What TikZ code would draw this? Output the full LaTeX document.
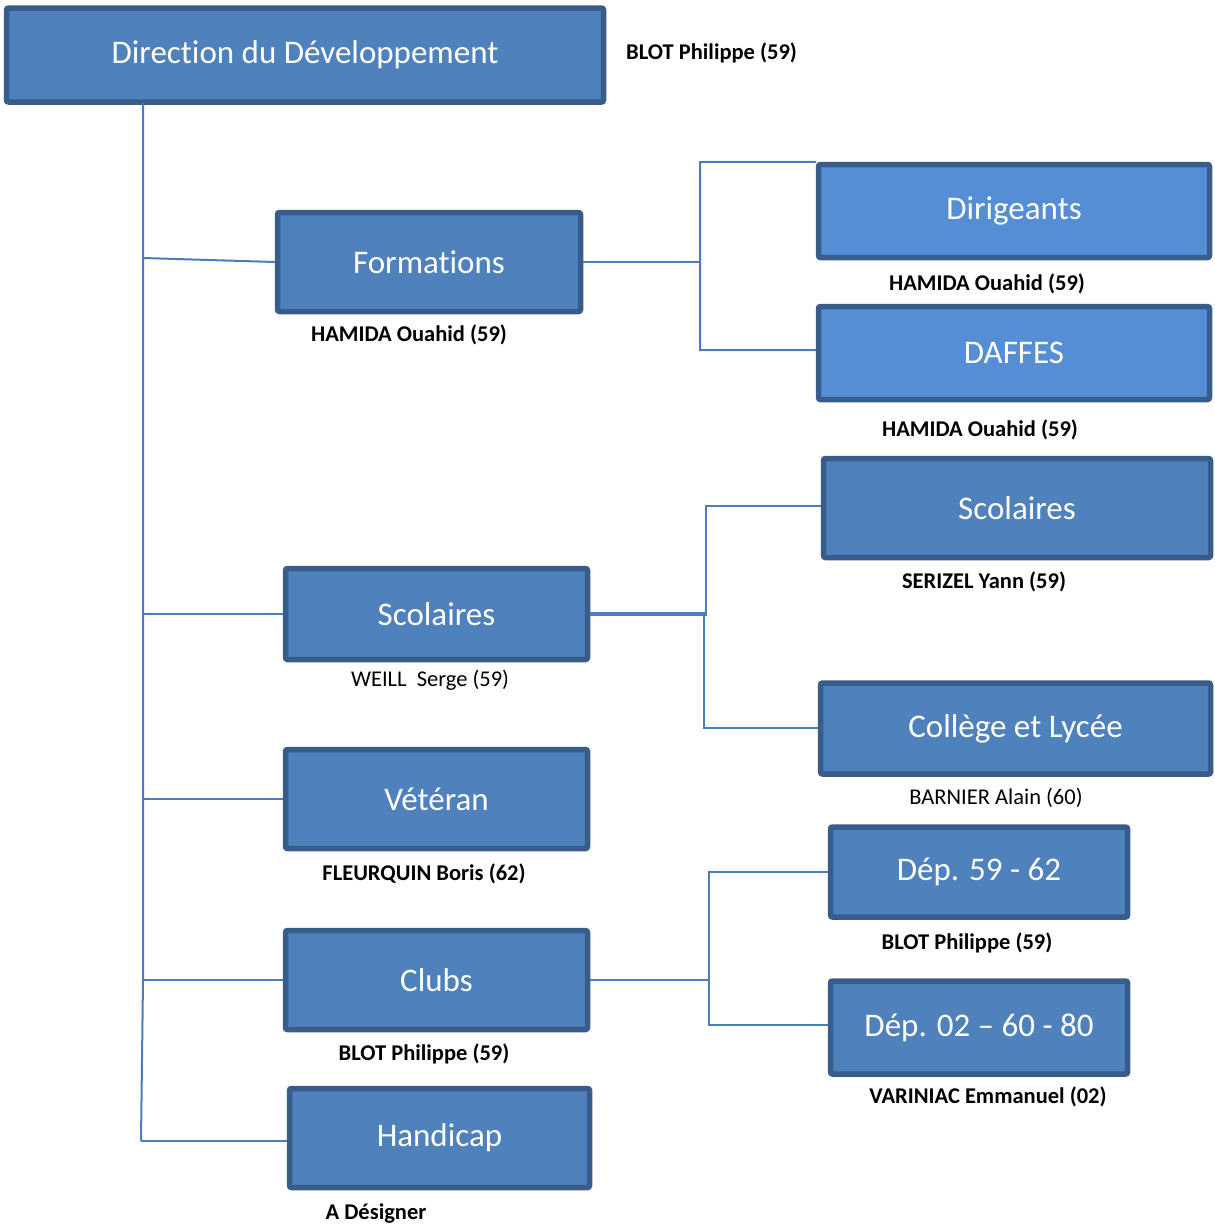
\documentclass[tikz,border=0pt]{standalone}
\usepackage{fontspec}
\setmainfont{Carlito}[Ligatures={TeX,NoCommon}]
\definecolor{boxfill}{HTML}{4F81BD}
\definecolor{boxfillb}{HTML}{558ED5}
\definecolor{boxedge}{HTML}{385D8A}
\definecolor{linecol}{HTML}{4A7EBB}
\begin{document}
\begin{tikzpicture}[x=1pt,y=-1pt,
  box/.style={draw=boxedge, line width=5.5pt, fill=boxfill, rounded corners=2pt,
    text=white, font=\fontsize{33}{38}\selectfont, inner sep=0pt},
  boxb/.style={box, fill=boxfillb},
  lab/.style={font=\fontsize{22.5}{26}\selectfont\bfseries, text=black, inner sep=0pt},
  labn/.style={font=\fontsize{22.5}{26}\selectfont, text=black, inner sep=0pt},
  conn/.style={draw=linecol, line width=2pt}]
\useasboundingbox (0,0) rectangle (1215,1227);

% boxes
\node[box, minimum width=597, minimum height=94] (dir) at (305,55) {Direction du Développement};
\node[box, minimum width=303, minimum height=99] (form) at (429,262) {Formations};
\node[boxb, minimum width=391, minimum height=93] (dirig) at (1014,211) {Dirigeants};
\node[boxb, minimum width=391, minimum height=93] (daffes) at (1014,353) {DAFFES};
\node[box, minimum width=387, minimum height=99] (scolr) at (1017,508) {Scolaires};
\node[box, minimum width=302, minimum height=91] (scolm) at (436.5,614) {Scolaires};
\node[box, minimum width=390, minimum height=91] (coll) at (1015.5,728.5) {Collège et Lycée};
\node[box, minimum width=302, minimum height=99] (vet) at (436.5,799) {Vétéran};
\node[box, minimum width=297, minimum height=90] (dep1) at (979,872) {Dép. 59 - 62};
\node[box, minimum width=302, minimum height=99] (clubs) at (436.5,980) {Clubs};
\node[box, minimum width=297, minimum height=93] (dep2) at (979,1027.5) {Dép. 02 – 60 - 80};
\node[box, minimum width=300, minimum height=99] (hand) at (439.5,1138) {Handicap};

% labels
\node[lab, anchor=west] (ldir) at (626,53) {BLOT Philippe (59)};
\node[lab] (lform) at (409,335) {HAMIDA Ouahid (59)};
\node[lab] (ldirig) at (987,284) {HAMIDA Ouahid (59)};
\node[lab] (ldaffes) at (980,430) {HAMIDA Ouahid (59)};
\node[lab] (lscolr) at (984,582) {SERIZEL Yann (59)};
\node[labn] (lscolm) at (430,680) {WEILL\ \ Serge (59)};
\node[labn] (lcoll) at (996,798) {BARNIER Alain (60)};
\node[lab] (lvet) at (424,874) {FLEURQUIN Boris (62)};
\node[lab] (ldep1) at (967,943) {BLOT Philippe (59)};
\node[lab] (lclubs) at (424,1054) {BLOT Philippe (59)};
\node[lab] (ldep2) at (988,1097) {VARINIAC Emmanuel (02)};
\node[lab] (lhand) at (376,1213) {A Désigner};

% trunk coordinates
\coordinate (t0) at (143,103);
\coordinate (tf) at (143,258);
\coordinate (ts) at (143,614);
\coordinate (tv) at (143,799);
\coordinate (tc) at (143,980);
\coordinate (th) at (141,1141);
\draw[conn] (t0) -- (tc) -- (th);
\draw[conn] (tf) -- (form.west);
\draw[conn] (ts) -- (scolm.west);
\draw[conn] (tv) -- (vet.west);
\draw[conn] (tc) -- (clubs.west);
\draw[conn] (th) -- (hand.west |- th);

% Formations branch
\coordinate (fa) at (700,162);
\coordinate (fb) at (700,350);
\draw[conn] (form.east) -- (form.east -| fa);
\draw[conn] (dirig.north west) -- (fa) -- (fb) -- (daffes.west |- fb);

% Scolaires branch
\coordinate (sa) at (706,506);
\coordinate (sb) at (704,728);
\draw[conn] ([yshift=-1pt]scolm.east) -- ([yshift=-1pt]scolm.east -| sa) -- (sa) -- (scolr.west |- sa);
\draw[conn] ([yshift=1pt]scolm.east) -- ([yshift=1pt]scolm.east -| sb) -- (sb) -- (coll.west |- sb);

% Clubs branch
\coordinate (ca) at (709,872);
\coordinate (cb) at (709,1025);
\draw[conn] (clubs.east) -- (clubs.east -| ca);
\draw[conn] (dep1.west |- ca) -- (ca) -- (cb) -- (dep2.west |- cb);
\end{tikzpicture}
\end{document}
